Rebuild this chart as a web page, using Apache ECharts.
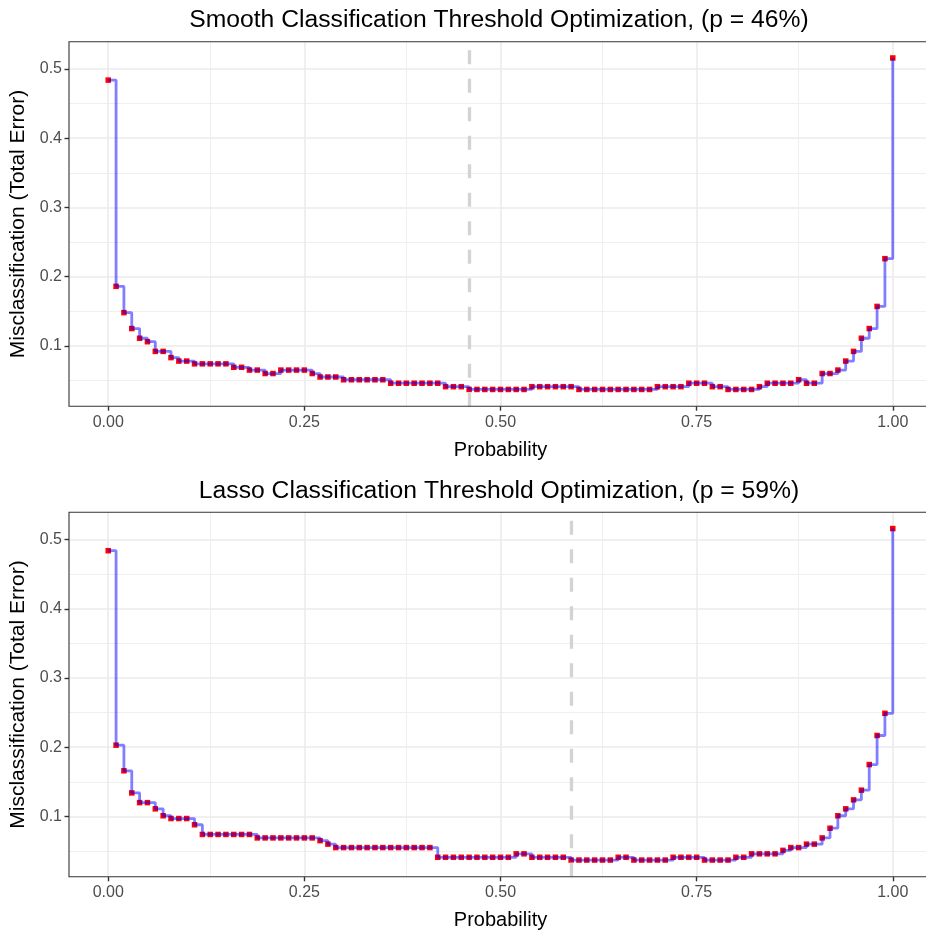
<!DOCTYPE html>
<html><head><meta charset="utf-8">
<script src="https://cdn.jsdelivr.net/npm/echarts@6/dist/echarts.min.js"></script>
<style>html,body{margin:0;padding:0;background:#fff}#c{width:926px;height:932px}</style>
</head><body><div id="c"></div>
<script>
const probability = [0.00,0.01,0.02,0.03,0.04,0.05,0.06,0.07,0.08,0.09,
  0.10,0.11,0.12,0.13,0.14,0.15,0.16,0.17,0.18,0.19,
  0.20,0.21,0.22,0.23,0.24,0.25,0.26,0.27,0.28,0.29,
  0.30,0.31,0.32,0.33,0.34,0.35,0.36,0.37,0.38,0.39,
  0.40,0.41,0.42,0.43,0.44,0.45,0.46,0.47,0.48,0.49,
  0.50,0.51,0.52,0.53,0.54,0.55,0.56,0.57,0.58,0.59,
  0.60,0.61,0.62,0.63,0.64,0.65,0.66,0.67,0.68,0.69,
  0.70,0.71,0.72,0.73,0.74,0.75,0.76,0.77,0.78,0.79,
  0.80,0.81,0.82,0.83,0.84,0.85,0.86,0.87,0.88,0.89,
  0.90,0.91,0.92,0.93,0.94,0.95,0.96,0.97,0.98,0.99,1.00];

const smoothError = [0.484,0.186,0.148,0.125,0.111,0.106,0.092,0.092,0.083,0.078,
  0.078,0.074,0.074,0.074,0.074,0.074,0.069,0.069,0.065,0.065,
  0.060,0.060,0.065,0.065,0.065,0.065,0.060,0.055,0.055,0.055,
  0.051,0.051,0.051,0.051,0.051,0.051,0.046,0.046,0.046,0.046,
  0.046,0.046,0.046,0.041,0.041,0.041,0.037,0.037,0.037,0.037,
  0.037,0.037,0.037,0.037,0.041,0.041,0.041,0.041,0.041,0.041,
  0.037,0.037,0.037,0.037,0.037,0.037,0.037,0.037,0.037,0.037,
  0.041,0.041,0.041,0.041,0.046,0.046,0.046,0.041,0.041,0.037,
  0.037,0.037,0.037,0.041,0.046,0.046,0.046,0.046,0.051,0.046,
  0.046,0.060,0.060,0.065,0.078,0.092,0.111,0.125,0.157,0.226,0.516];

const lassoError = [0.484,0.203,0.166,0.134,0.120,0.120,0.111,0.101,0.097,0.097,
  0.097,0.088,0.074,0.074,0.074,0.074,0.074,0.074,0.074,0.069,
  0.069,0.069,0.069,0.069,0.069,0.069,0.069,0.065,0.060,0.055,
  0.055,0.055,0.055,0.055,0.055,0.055,0.055,0.055,0.055,0.055,
  0.055,0.055,0.041,0.041,0.041,0.041,0.041,0.041,0.041,0.041,
  0.041,0.041,0.046,0.046,0.041,0.041,0.041,0.041,0.041,0.037,
  0.037,0.037,0.037,0.037,0.037,0.041,0.041,0.037,0.037,0.037,
  0.037,0.037,0.041,0.041,0.041,0.041,0.037,0.037,0.037,0.037,
  0.041,0.041,0.046,0.046,0.046,0.046,0.051,0.055,0.055,0.060,
  0.060,0.069,0.083,0.101,0.111,0.124,0.138,0.175,0.217,0.249,0.516];

const thresholds = [0.46, 0.59];
const panelTitles = [
  'Smooth Classification Threshold Optimization, (p = 46%)',
  'Lasso Classification Threshold Optimization, (p = 59%)'
];
const xTitle = 'Probability';
const yTitle = 'Misclassification (Total Error)';
const xTickValues = [0, 0.25, 0.5, 0.75, 1];
const xMinorValues = [0.125, 0.375, 0.625, 0.875];
const yTickValues = [0.1, 0.2, 0.3, 0.4, 0.5];
const yMinorValues = [0.05, 0.15, 0.25, 0.35, 0.45];

const FONT = 'Liberation Sans, Arial, Helvetica, sans-serif';
const panelTops = [41.7, 512.3];
const panelH = 364.5;
const allSeriesVals = [smoothError, lassoError];

const grids = [], xAxes = [], yAxes = [], series = [], titles = [];
panelTops.forEach((top, i) => {
  grids.push({left: 69, top: top, width: 863, height: panelH, show: true,
    borderColor: '#333333', borderWidth: 1.1, backgroundColor: 'transparent', z: 10,
    containLabel: false, outerBoundsMode: 'none'});
  titles.push({text: panelTitles[i], left: 494, textAlign: 'center', top: top - 39,
    textStyle: {fontFamily: FONT, fontSize: 24.7, fontWeight: 'normal', color: '#000'}});
  xAxes.push({gridIndex: i, type: 'value', min: -0.05, max: 1.05, position: 'bottom',
    name: xTitle, nameLocation: 'middle', nameGap: 34,
    nameTextStyle: {fontFamily: FONT, fontSize: 20, color: '#000'},
    axisLine: {show: false, onZero: false},
    splitLine: {show: false},
    axisTick: {show: true, length: 4.5, customValues: xTickValues, lineStyle: {color: '#333333', width: 1.4}},
    axisLabel: {customValues: xTickValues, margin: 8, fontFamily: FONT, fontSize: 16, color: '#4D4D4D',
      formatter: v => v.toFixed(2)}
  });
  yAxes.push({gridIndex: i, type: 'value', min: 0.0128, max: 0.5395, position: 'left',
    name: yTitle, nameLocation: 'middle', nameGap: 37,
    nameTextStyle: {fontFamily: FONT, fontSize: 21, color: '#000'},
    axisLine: {show: false, onZero: false},
    splitLine: {show: false},
    axisTick: {show: true, length: 4.5, customValues: yTickValues, lineStyle: {color: '#333333', width: 1.4}},
    axisLabel: {customValues: yTickValues, margin: 7, fontFamily: FONT, fontSize: 16, color: '#4D4D4D',
      formatter: v => v.toFixed(1)}
  });
  const gridLines = [];
  yTickValues.forEach(v => gridLines.push({yAxis: v, lineStyle: {color: '#EBEBEB', width: 1.6, type: 'solid'}}));
  yMinorValues.forEach(v => gridLines.push({yAxis: v, lineStyle: {color: '#EFEFEF', width: 1.1, type: 'solid'}}));
  xTickValues.forEach(v => gridLines.push({xAxis: v, lineStyle: {color: '#EBEBEB', width: 1.6, type: 'solid'}}));
  xMinorValues.forEach(v => gridLines.push({xAxis: v, lineStyle: {color: '#EFEFEF', width: 1.1, type: 'solid'}}));
  const pts = probability.map((p, k) => [p, allSeriesVals[i][k]]);
  series.push({type: 'scatter', xAxisIndex: i, yAxisIndex: i, data: pts, symbol: 'rect', symbolSize: 5.5,
    itemStyle: {color: '#FF0000', opacity: 1}, z: 2, silent: true, animation: false,
    markLine: {silent: true, z: 1, symbol: ['none', 'none'], label: {show: false}, animation: false,
      emphasis: {disabled: true}, data: gridLines}
  });
  series.push({type: 'line', xAxisIndex: i, yAxisIndex: i, data: pts, step: 'end', showSymbol: false,
    lineStyle: {color: 'rgba(0,0,255,0.5)', width: 2.8}, z: 3, silent: true, animation: false,
    markLine: {silent: true, z: 4, symbol: ['none', 'none'], label: {show: false}, animation: false,
      emphasis: {disabled: true},
      data: [{xAxis: thresholds[i], lineStyle: {color: '#D3D3D3', width: 3.3, type: [14, 14.5]}}]}
  });
});

const chart = echarts.init(document.getElementById('c'), null, {renderer: 'canvas'});
chart.setOption({
  backgroundColor: '#ffffff',
  animation: false,
  textStyle: {fontFamily: FONT},
  title: titles, grid: grids, xAxis: xAxes, yAxis: yAxes, series: series
});
</script>
</body></html>
